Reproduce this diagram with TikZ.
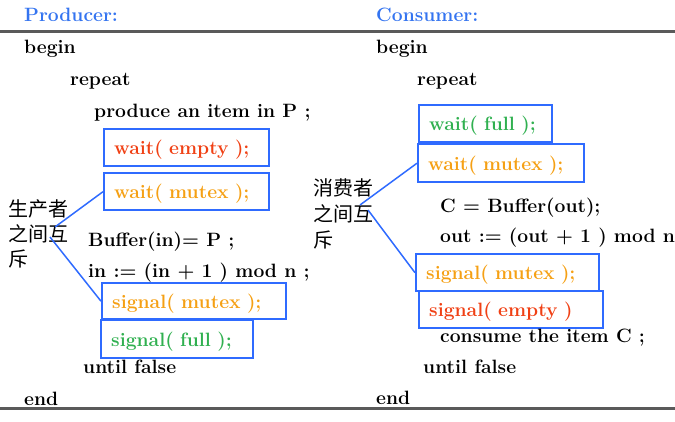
\documentclass[tikz,border=0pt]{standalone}
\usepackage{fontspec}
\newfontfamily\cjk{Noto Sans CJK SC}
\definecolor{headblue}{RGB}{52,116,240}
\definecolor{boxblue}{RGB}{47,107,255}
\definecolor{semred}{RGB}{240,64,20}
\definecolor{semorange}{RGB}{245,160,20}
\definecolor{semgreen}{RGB}{48,176,80}
\definecolor{rulegray}{RGB}{90,90,90}

\begin{document}
\begin{tikzpicture}[x=1pt, y=-1pt,
code/.style={anchor=base west, inner sep=0pt, font=\fontsize{19.3}{23}\selectfont\bfseries},
head/.style={code, text=headblue},
box/.style={draw=boxblue, line width=2.4pt, anchor=north west, inner xsep=10pt, inner ysep=0pt,
  align=left, text height=14pt, text depth=0pt, font=\fontsize{19.3}{23}\selectfont\bfseries},
note/.style={align=left, inner sep=0pt, font=\fontsize{20}{25}\selectfont\cjk},
link/.style={draw=boxblue, line width=1.5pt}]

\useasboundingbox (0,0) rectangle (675,422);

\draw[rulegray, line width=3pt] (0,32) -- (675,32);
\draw[rulegray, line width=3pt] (0,408) -- (675,408);

\node[head] (phead) at (24,22) {Producer:};
\node[head] (chead) at (376,22) {Consumer:};

\node[code] (pbegin) at (24,54) {begin};
\node[code] (prepeat) at (70,86) {repeat};
\node[code] (pproduce) at (94,118) {produce an item in P ;};
\node[box, text width=145pt, minimum height=37pt, text=semred] (pwempty) at (103,128) {wait( empty );};
\node[box, text width=145pt, minimum height=37pt, text=semorange] (pwmutex) at (103,172) {wait( mutex );};
\node[code] (pbuf) at (88,247) {Buffer(in)= P ;};
\node[code] (pin) at (88,277) {in := (in + 1 ) mod n ;};
\node[box, text width=164pt, minimum height=36pt, text=semorange] (psmutex) at (101,282) {signal( mutex );};
\node[box, text width=132pt, minimum height=38pt, text=semgreen] (psfull) at (100,319) {signal( full );};
\node[code] (puntil) at (83,373) {until false};
\node[code] (pend) at (24,405) {end};
\node[note] (pnote) at (39,234) {生产者\\之间互\\斥};
\coordinate (pfork1) at (55,227);
\coordinate (pfork2) at (50,237);
\draw[link] (pfork1) -- (pwmutex.west);
\draw[link] (pfork2) -- (psmutex.west);

\node[code] (cbegin) at (376,54) {begin};
\node[code] (crepeat) at (417,86) {repeat};
\node[box, text width=113pt, minimum height=37pt, text=semgreen] (cwfull) at (418,104) {wait( full );};
\node[box, text width=146pt, minimum height=38pt, text=semorange] (cwmutex) at (417,143) {wait( mutex );};
\node[code] (cbuf) at (440,213) {C = Buffer(out);};
\node[code] (cout) at (440,243) {out := (out + 1 ) mod n ;};
\node[box, text width=163pt, minimum height=37pt, text=semorange] (csmutex) at (415,253) {signal( mutex );};
\node[box, text width=164pt, minimum height=37pt, text=semred] (csempty) at (418,290) {signal( empty )};
\node[code] (cconsume) at (440,342) {consume the item C ;};
\node[code] (cuntil) at (423,373) {until false};
\node[code] (cend) at (376,404) {end};
\node[note, font=\fontsize{20}{26}\selectfont\cjk] (cnote) at (343,214) {消费者\\之间互\\斥};
\coordinate (cfork1) at (360,205);
\coordinate (cfork2) at (368,210);
\draw[link] (cfork1) -- (cwmutex.west);
\draw[link] (cfork2) -- (csmutex.west);

\end{tikzpicture}
\end{document}
